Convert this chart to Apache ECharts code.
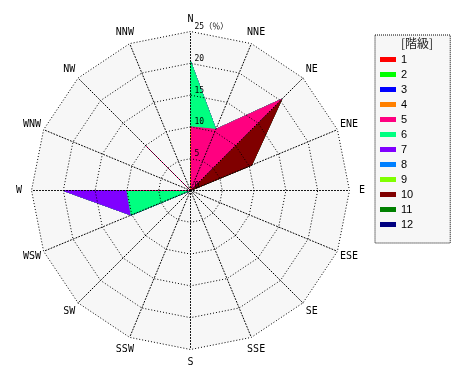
<!DOCTYPE html>
<html><head><meta charset="utf-8">
<script src="https://cdn.jsdelivr.net/npm/echarts@6/dist/echarts.min.js"></script>
<style>html,body{margin:0;padding:0;background:#fff}#c{width:470px;height:380px}</style>
</head><body><div id="c"></div>
<script>
// Wind directions, clockwise from north
const directions = ['N','NNE','NE','ENE','E','ESE','SE','SSE','S','SSW','SW','WSW','W','WNW','NW','NNW'];
const classNames = ['1','2','3','4','5','6','7','8','9','10','11','12'];
const classColors = ['#ff0000','#00ff00','#0000ff','#ff8000','#ff0080','#00ff80','#8000ff','#0080ff','#80ff00','#800000','#008000','#000080'];
// frequency (%) per class, per direction (N, NNE, ... NNW)
const c1  = [0,0,0,0,0,0,0,0,0,0,0,0,0,0,0,0];
const c2  = [0,0,0,0,0,0,0,0,0,0,0,0,0,0,0,0];
const c3  = [0,0,0,0,0,0,0,0,0,0,0,0,0,0,0,0];
const c4  = [10,0,0,0,0,0,0,0,0,0,0,0,0,0,0,0];
const c5  = [0,10.4,20.3,0,0,0,0,0,0,0,0,0,10,0,10,0];
const c6  = [10.3,0,0,0,0,0,0,0,0,0,0,10.1,0,0,0,0];
const c7  = [0,0,0,0,0,0,0,0,0,0,0,0,10,0,0,0];
const c8  = [0,0,0,0,0,0,0,0,0,0,0,0,0,0,0,0];
const c9  = [0,0,0,0,0,0,0,0,0,0,0,0,0,0,0,0];
const c10 = [0,0,0,10.4,0,0,0,0,0,0,0,0,0,0,0,0];
const c11 = [0,0,0,0,0,0,0,0,0,0,0,0,0,0,0,0];
const c12 = [0,0,0,0,0,0,0,0,0,0,0,0,0,0,0,0];
const radiusTicks = [0,5,10,15,20,25];
const tickLabels = ['0','5','10','15','20','25（％）'];
const legendTitle = '[階級]';

const classes = [c1,c2,c3,c4,c5,c6,c7,c8,c9,c10,c11,c12];
const n = directions.length;
// radar lays indicators counter-clockwise; reorder so they run clockwise
const order = directions.map((d, i) => (n - i) % n);
const indicator = order.map(j => ({ name: directions[j], min: 0, max: 25 }));
const cum = [];
classes.forEach((arr, k) => {
  cum.push(arr.map((v, i) => v + (k > 0 ? cum[k - 1][i] : 0)));
});
const series = [];
for (let k = classes.length - 1; k >= 0; k--) {
  const col = classColors[k];
  series.push({
    type: 'radar', name: classNames[k], radarIndex: 0, z: 2, silent: true,
    symbol: 'none',
    itemStyle: { color: col },
    lineStyle: { color: col, width: 1 },
    areaStyle: { color: col, opacity: 1 },
    data: [{ value: order.map(j => cum[k][j]) }]
  });
}
const C = [190.5, 190.5], R = 159;
const dotted = { color: '#000', type: [1, 2], width: 1 };
const option = {
  animation: false,
  backgroundColor: '#fff',
  title: {
    text: legendTitle, left: 417, top: 37, textAlign: 'center', padding: 0, z: 10,
    textStyle: { fontSize: 12, fontWeight: 'normal', color: '#222', fontFamily: 'Noto Sans CJK JP' }
  },
  legend: {
    orient: 'vertical', left: 375, top: 35, padding: [17, 37, 11, 5],
    itemGap: 0, itemWidth: 16, itemHeight: 5, icon: 'rect',
    data: classNames,
    backgroundColor: '#f7f7f7', borderColor: '#000', borderWidth: 1, borderType: [1, 1],
    textStyle: { fontSize: 11, fontFamily: 'Liberation Sans', color: '#000', lineHeight: 15 },
    selectedMode: false
  },
  radar: [
    {
      center: C, radius: R, startAngle: 90, splitNumber: 5, shape: 'polygon', indicator, z: 1,
      axisName: { show: false }, splitLine: { show: false }, axisLine: { show: false },
      axisTick: { show: false }, axisLabel: { show: false },
      splitArea: { show: true, areaStyle: { color: ['#f7f7f7'] } }
    },
    {
      center: C, radius: R, startAngle: 90, splitNumber: 5, shape: 'polygon', indicator, z: 3,
      nameGap: 12.5,
      axisName: { show: true, color: '#000', fontSize: 10, fontFamily: 'DejaVu Sans Mono', align: 'center', verticalAlign: 'middle' },
      splitLine: { lineStyle: dotted }, axisLine: { lineStyle: dotted },
      axisTick: { show: false }, axisLabel: { show: false },
      splitArea: { show: false }
    }
  ],
  polar: { center: C, radius: R },
  angleAxis: { show: false, min: 0, max: 360, startAngle: 90 },
  radiusAxis: {
    type: 'value', min: radiusTicks[0], max: radiusTicks[radiusTicks.length - 1], interval: radiusTicks[1] - radiusTicks[0],
    z: 5,
    axisLine: { show: false }, axisTick: { show: false }, splitLine: { show: false },
    axisLabel: {
      show: true, fontSize: 8, fontFamily: 'DejaVu Sans Mono, Noto Sans CJK JP', color: '#000',
      margin: -4, align: 'left', verticalAlign: 'bottom', lineHeight: 9,
      formatter: v => tickLabels[radiusTicks.indexOf(v)] || ''
    }
  },
  series
};
echarts.init(document.getElementById('c')).setOption(option);
</script></body></html>
